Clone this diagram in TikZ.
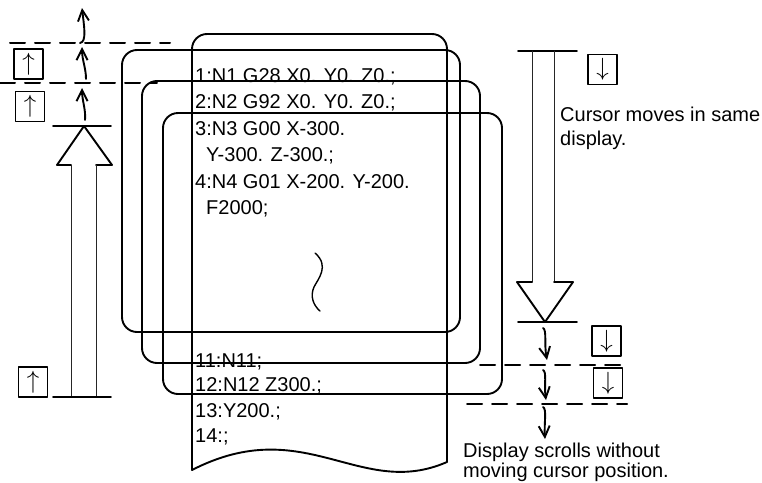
\documentclass[tikz,border=0pt]{standalone}
\usepackage{fontspec}
\setmainfont{Liberation Sans}
\usetikzlibrary{arrows.meta}

\tikzset{
  screen/.style={line width=1.9pt,rounded corners=15pt},
  code/.style={anchor=base west,inner sep=0pt,font=\fontsize{20}{24}\selectfont},
  keybox/.style={draw,line width=1.4pt,minimum width=29pt,minimum height=30pt,inner sep=0pt,font=\fontsize{26}{26}\selectfont},
  move/.style={line width=1.9pt,-{Straight Barb[length=11pt,width=11pt]}},
  guide/.style={line width=2pt,dash pattern=on 15pt off 10pt},
  shaft/.style={line width=1pt,black!85}
}

\begin{document}
\begin{tikzpicture}[x=1pt,y=-1pt,line cap=round,line join=round]
\useasboundingbox (0,0) rectangle (762,482);

\draw[screen] (122,50) rectangle (460,332);
\draw[screen] (142,81) rectangle (480,363);
\draw[screen] (163,113) rectangle (502,394);

\draw[screen] (192,470) -- (192,34) -- (447,34) -- (447,462);
\draw[line width=1.9pt] (447,462) .. controls (360,500) and (305,412) .. (192,470);

\node[code] (l1) at (195,82) {1:N1 G28 X0. Y0. Z0.;};
\node[code] (l2) at (195,108.5) {2:N2 G92 X0. Y0. Z0.;};
\node[code] (l3) at (195,135) {3:N3 G00 X-300.};
\node[code] (l3b) at (206,161.5) {Y-300. Z-300.;};
\node[code] (l4) at (195,188) {4:N4 G01 X-200. Y-200.};
\node[code] (l4b) at (206,214.5) {F2000;};
\node[code] (l11) at (195,367) {11:N11;};
\node[code] (l12) at (195,391.5) {12:N12 Z300.;};
\node[code] (l13) at (195,417) {13:Y200.;};
\node[code] (l14) at (195,442) {14:;};

\draw[line width=1.4pt] (315,253) .. controls (330,266) and (318,279) .. (314,287) .. controls (310,296) and (313,305) .. (320,311);

\draw[line width=1.9pt] (53,126) -- (111,126);
\draw[line width=1.9pt] (71,165) -- (57,165) -- (84,126) -- (112,165) -- (96,165);
\draw[shaft] (71,165) -- (71,397);
\draw[shaft] (96,165) -- (96,397);
\draw[line width=1.9pt] (53,397) -- (111,397);

\draw[line width=1.9pt] (518,51) -- (577,51);
\draw[shaft] (532,51) -- (532,282);
\draw[shaft] (554,51) -- (554,282);
\draw[line width=1.9pt] (532,282) -- (517,282) -- (545,322) -- (573,282) -- (554,282);
\draw[line width=1.9pt] (518,322) -- (577,322);

\draw[guide] (10,43) -- (170,43);
\draw[guide] (0,83) -- (157,83);
\draw[guide] (480,365) -- (627,365);
\draw[guide] (467,404) -- (627,404);

\node[keybox] (upA) at (28.5,64) {$\uparrow$};
\node[keybox] (upB) at (30,106.5) {$\uparrow$};
\node[keybox] (upC) at (33,382) {$\uparrow$};
\node[keybox] (dnTop) at (602.5,69.5) {$\downarrow$};
\node[keybox] (dnA) at (606.5,341) {$\downarrow$};
\node[keybox] (dnB) at (608,383) {$\downarrow$};

\coordinate (up1t) at (85,120);
\coordinate (up1h) at (82,88);
\coordinate (up2t) at (86,79);
\coordinate (up2h) at (82,47);
\coordinate (up3t) at (80,43);
\coordinate (up3h) at (82,8);
\draw[move] (up1t) .. controls (86,110) and (82,100) .. (up1h);
\draw[move] (up2t) .. controls (86,68) and (82,60) .. (up2h);
\draw[move] (up3t) .. controls (87,42) and (84,26) .. (up3h);

\coordinate (dn1t) at (543,328);
\coordinate (dn1h) at (547,360);
\coordinate (dn2t) at (543,370);
\coordinate (dn2h) at (546,400);
\coordinate (dn3t) at (543,407);
\coordinate (dn3h) at (545,439);
\draw[move] (dn1t) .. controls (547,330) and (544,344) .. (dn1h);
\draw[move] (dn2t) .. controls (547,372) and (544,385) .. (dn2h);
\draw[move] (dn3t) .. controls (547,409) and (544,423) .. (dn3h);

\node[anchor=north west,inner sep=0pt,align=left,font=\fontsize{20}{24}\selectfont] (cursor) at (560,106.5) {Cursor moves in same\\display.};
\node[anchor=north west,inner sep=0pt,align=left,font=\fontsize{20}{20}\selectfont] (scroll) at (463,442.5) {Display scrolls without\\moving cursor position.};

\end{tikzpicture}
\end{document}
